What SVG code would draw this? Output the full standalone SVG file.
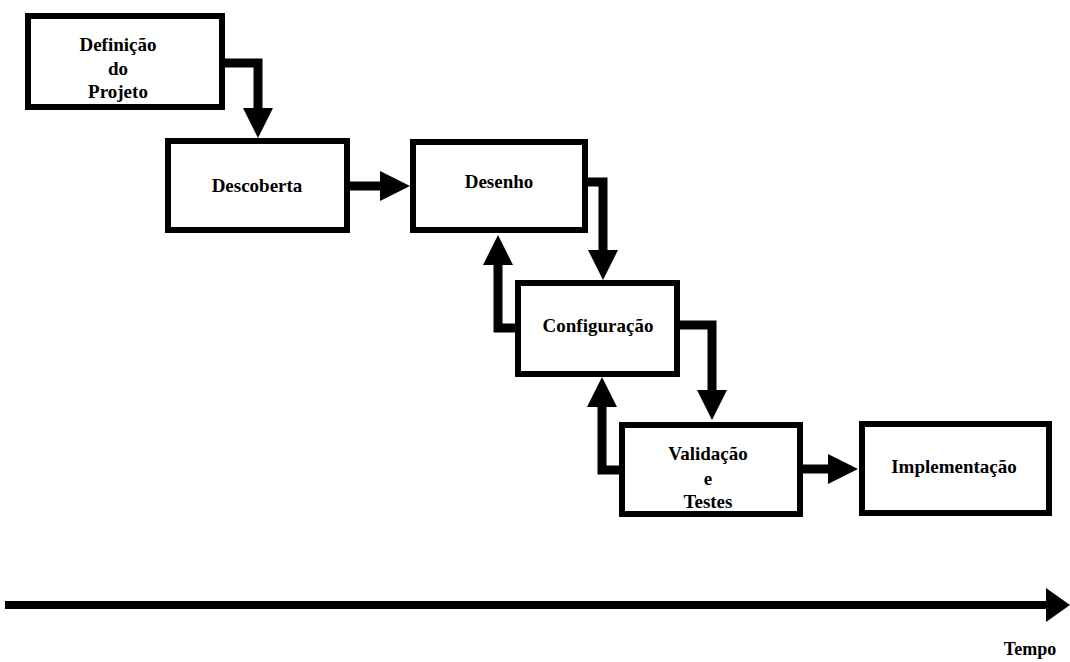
<svg xmlns="http://www.w3.org/2000/svg" width="1070" height="662" viewBox="0 0 1070 662">
  <style>
    .box { fill: #ffffff; stroke: #000000; stroke-width: 6; }
    .lbl { font-family: "Liberation Serif", "Times New Roman", serif; font-weight: bold; font-size: 19px; fill: #000000; text-anchor: middle; }
    .conn { fill: none; stroke: #000000; stroke-width: 9; stroke-linejoin: miter; }
    .axis { fill: none; stroke: #000000; stroke-width: 8; }
  </style>
  <defs>
    <marker id="head" markerUnits="userSpaceOnUse" viewBox="0 0 30 30" markerWidth="30" markerHeight="30" refX="0" refY="15" orient="auto">
      <path d="M0,0 L30,15 L0,30 Z" fill="#000000"/>
    </marker>
    <marker id="axisHead" markerUnits="userSpaceOnUse" viewBox="0 0 24 34" markerWidth="24" markerHeight="34" refX="0" refY="17" orient="auto">
      <path d="M0,0 L24,17 L0,34 Z" fill="#000000"/>
    </marker>
  </defs>

  <rect width="1070" height="662" fill="#ffffff"/>

  <!-- connectors between the phases -->
  <g id="connectors">
    <path class="conn" d="M222,63 H258 V108" marker-end="url(#head)"/>
    <path class="conn" d="M347,186 H380" marker-end="url(#head)"/>
    <path class="conn" d="M585,182 H603 V250" marker-end="url(#head)"/>
    <path class="conn" d="M518,328 H498 V265" marker-end="url(#head)"/>
    <path class="conn" d="M677,325 H712 V390" marker-end="url(#head)"/>
    <path class="conn" d="M622,470 H602 V407" marker-end="url(#head)"/>
    <path class="conn" d="M800,469 H828" marker-end="url(#head)"/>
  </g>

  <!-- phases -->
  <g id="definicao">
    <rect class="box" x="28" y="16" width="194" height="91"/>
    <text class="lbl" x="118" y="51">Definição</text>
    <text class="lbl" x="118" y="75">do</text>
    <text class="lbl" x="118" y="98">Projeto</text>
  </g>
  <g id="descoberta">
    <rect class="box" x="168" y="141" width="179" height="89"/>
    <text class="lbl" x="257" y="192">Descoberta</text>
  </g>
  <g id="desenho">
    <rect class="box" x="413" y="142" width="172" height="88"/>
    <text class="lbl" x="499" y="188">Desenho</text>
  </g>
  <g id="configuracao">
    <rect class="box" x="518" y="283" width="159" height="91"/>
    <text class="lbl" x="598" y="332">Configuração</text>
  </g>
  <g id="validacao">
    <rect class="box" x="622" y="425" width="178" height="89"/>
    <text class="lbl" x="708" y="460">Validação</text>
    <text class="lbl" x="708" y="485">e</text>
    <text class="lbl" x="708" y="508">Testes</text>
  </g>
  <g id="implementacao">
    <rect class="box" x="862" y="424" width="187" height="89"/>
    <text class="lbl" x="954" y="473">Implementação</text>
  </g>

  <!-- time axis -->
  <g id="tempo">
    <path class="axis" d="M5,605 H1046" marker-end="url(#axisHead)"/>
    <text class="lbl" x="1030" y="655" style="font-size:18px">Tempo</text>
  </g>
</svg>
